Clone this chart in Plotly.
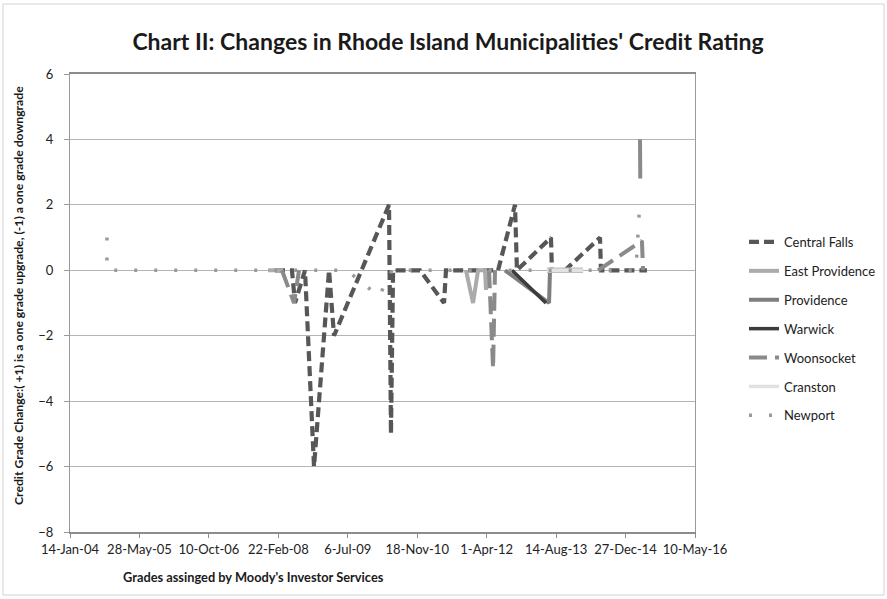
import plotly.graph_objects as go

# Rating-change events per municipality (date, change in grades); None splits a line
cf_dates = ["2008-01-29", "2008-05-30", "2008-06-21", "2008-09-01", "2008-11-05",
            "2009-02-21", "2009-03-29", "2010-04-29", "2010-05-13", "2010-05-28",
            "2010-12-08", "2011-05-30", "2011-06-13", "2012-06-22", "2012-10-22",
            "2012-11-05", "2013-07-08", "2013-07-15", "2013-10-17", "2014-06-26",
            "2014-07-03", "2015-05-30"]
cf_vals = [0, 0, -1, 0, -6, 0, -2, 2, -5, 0, 0, -1, 0, 0, 2, 0, 1, 0, 0, 1, 0, 0]

ep_dates = ["2007-12-10", "2008-03-27", None, "2011-11-04", "2011-12-25",
            "2012-01-30", "2012-03-20", "2012-03-27", "2012-04-11"]
ep_vals = [0, 0, None, 0, -1, 0, 0, -0.6, 0]

prov_dates = ["2012-08-11", "2013-06-24", "2013-07-01"]
prov_vals = [0, -1, 0]

war_dates = ["2012-09-30", "2013-06-02"]
war_vals = [0, -1]

woon_dates = ["2008-03-19", "2008-06-14", "2008-07-20", None, "2012-04-18",
              "2012-05-17", "2012-05-31", None, "2014-06-12", "2015-04-24",
              "2015-05-02"]
woon_vals = [0, -1, 0, None, 0, -3, 0, None, 0, 0.9, 0]
woon_peak_dates = ["2015-04-10", "2015-04-17"]
woon_peak_vals = [4, 0]

cran_dates = ["2013-06-09", "2014-02-24"]
cran_vals = [0, 0]

newp_dates = ["2004-10-06", "2004-10-06", "2009-06-30", "2010-02-16",
              "2010-05-20", "2015-03-12", "2015-04-10"]
newp_vals = [1, 0, 0, -0.8, 0, 0, 2.2]

tick_dates = ["2004-01-14", "2005-05-28", "2006-10-10", "2008-02-22", "2009-07-06",
              "2010-11-18", "2012-04-01", "2013-08-14", "2014-12-27", "2016-05-10"]
tick_text = ["14-Jan-04", "28-May-05", "10-Oct-06", "22-Feb-08", "6-Jul-09",
             "18-Nov-10", "1-Apr-12", "14-Aug-13", "27-Dec-14", "10-May-16"]
y_ticks = [6, 4, 2, 0, -2, -4, -6, -8]

FONT = "Lato"

fig = go.Figure()


def add_line(name, xs, ys, color, width, dash="solid", legend=True, group=None):
    fig.add_trace(go.Scatter(
        x=xs, y=ys, mode="lines", name=name,
        line=dict(color=color, width=width, dash=dash),
        connectgaps=False, showlegend=legend,
        legendgroup=group or name, hoverinfo="skip",
    ))


add_line("Central Falls", cf_dates, cf_vals, "#575757", 4.2, "10px,5px")
add_line("East Providence", ep_dates, ep_vals, "#ababab", 4)
add_line("Providence", prov_dates, prov_vals, "#7e7e7e", 4)
add_line("Warwick", war_dates, war_vals, "#3c3c3c", 3.5)
add_line("Woonsocket", woon_dates, woon_vals, "#8a8a8a", 4, "18px,8px")
add_line("Woonsocket", woon_peak_dates, woon_peak_vals, "#8a8a8a", 4,
         "39px,300px", legend=False, group="Woonsocket")
add_line("Cranston", cran_dates, cran_vals, "#bdbdbd", 5.5, legend=False,
         group="Cranston")
add_line("Cranston", cran_dates, cran_vals, "#e2e2e2", 3.5)
add_line("Newport", newp_dates, newp_vals, "#9a9a9a", 3.5, "3px,17px")

fig.update_layout(
    width=887, height=599,
    margin=dict(l=70, r=192, t=74, b=67, autoexpand=False),
    paper_bgcolor="white", plot_bgcolor="white",
    font=dict(family=FONT, color="#222222", size=12),
    title=dict(
        text="<b>Chart II: Changes in Rhode Island Municipalities' Credit Rating</b>",
        x=448 / 887, xref="container", xanchor="center",
        y=1 - 42 / 599, yref="container", yanchor="middle",
        font=dict(family=FONT, size=23, color="#1a1a1a"),
    ),
    legend=dict(
        x=(744 - 70) / 625, xanchor="left", y=(532 - 227) / 458, yanchor="top",
        font=dict(family=FONT, size=13, color="#222222"),
        itemwidth=30, tracegroupgap=9, bgcolor="rgba(0,0,0,0)",
    ),
    showlegend=True,
)

fig.update_xaxes(
    type="date", range=["2004-01-14", "2016-05-10"],
    tickmode="array", tickvals=tick_dates, ticktext=tick_text,
    tickfont=dict(family=FONT, size=13, color="#222222"),
    showgrid=False, zeroline=False,
    showline=True, linecolor="#8c8c8c", linewidth=2, mirror=True,
    ticks="outside", ticklen=4, tickcolor="#8c8c8c",
)
fig.update_yaxes(
    range=[-8, 6], tickmode="array", tickvals=y_ticks,
    tickfont=dict(family=FONT, size=13, color="#222222"),
    showgrid=True, gridcolor="#b4b4b4", gridwidth=1,
    zeroline=True, zerolinecolor="#b4b4b4", zerolinewidth=1,
    showline=True, linecolor="#9a9a9a", linewidth=1.2, mirror=True,
    ticks="outside", ticklen=5, tickcolor="#9a9a9a", ticklabelstandoff=8,
)

fig.add_annotation(
    text="<b>Credit Grade Change:( +1) is a one grade upgrade, (-1) a one grade downgrade</b>",
    xref="paper", yref="paper", x=(18 - 70) / 625, y=(532 - 296) / 458,
    textangle=-90, showarrow=False, xanchor="center", yanchor="middle",
    font=dict(family=FONT, size=12.2, color="#1a1a1a"),
)
fig.add_annotation(
    text="<b>Grades assinged by Moody's Investor Services</b>",
    xref="paper", yref="paper", x=(253 - 70) / 625, y=(532 - 577) / 458,
    showarrow=False, xanchor="center", yanchor="middle",
    font=dict(family=FONT, size=12.8, color="#1a1a1a"),
)

# Thin frame around the whole chart area
fig.add_shape(
    type="rect", xref="paper", yref="paper", layer="below",
    x0=(3 - 70) / 625, x1=(884 - 70) / 625,
    y0=(532 - 595) / 458, y1=(532 - 4) / 458,
    line=dict(color="#d2d2d2", width=1),
)

fig.write_html("out.html")
